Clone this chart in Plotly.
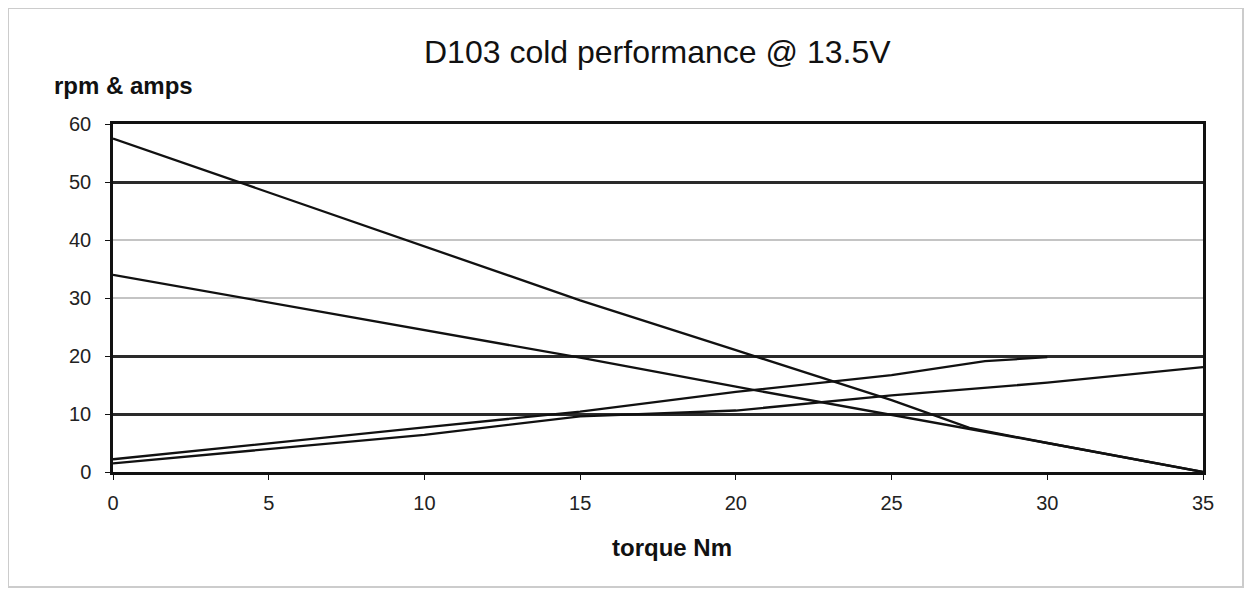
import plotly.graph_objects as go

# Data
torque_a = [0, 5, 10, 15, 20, 25, 27.5, 30, 35]
series_a = [57.5, 48.2, 38.9, 29.6, 21.0, 12.4, 7.6, 5.0, 0.0]

torque_b = [0, 5, 10, 15, 20, 25, 30, 35]
series_b = [34.0, 29.2, 24.4, 19.7, 14.7, 9.9, 5.0, 0.0]

torque_c = [0, 5, 10, 15, 20, 25, 28, 30]
series_c = [2.2, 5.0, 7.7, 10.4, 13.8, 16.7, 19.1, 19.8]

torque_d = [0, 5, 10, 15, 20, 25, 30, 35]
series_d = [1.5, 3.9, 6.4, 9.6, 10.6, 13.2, 15.4, 18.1]

x_ticks = [0, 5, 10, 15, 20, 25, 30, 35]
y_ticks = [0, 10, 20, 30, 40, 50, 60]
dark_grid = [10, 20, 50]

title_text = "D103 cold performance @ 13.5V"
y_label = "rpm & amps"
x_label = "torque Nm"

font_family = "Liberation Sans, Arial, sans-serif"

W, H = 1236, 580
L, R, T, B = 105, 41, 116, 116
PW, PH = W - L - R, H - T - B

fig = go.Figure()
for xs, ys in [(torque_a, series_a), (torque_b, series_b), (torque_c, series_c), (torque_d, series_d)]:
    fig.add_trace(go.Scatter(x=xs, y=ys, mode="lines",
                             line=dict(color="#111111", width=2.3),
                             showlegend=False, hoverinfo="skip"))

# invisible trace to activate the overlay axis carrying the darker gridlines
fig.add_trace(go.Scatter(x=[0], y=[0], yaxis="y2", mode="markers",
                         marker=dict(opacity=0), showlegend=False, hoverinfo="skip"))

fig.update_layout(
    width=W, height=H,
    paper_bgcolor="white", plot_bgcolor="white",
    margin=dict(l=L, r=R, t=T, b=B),
    font=dict(family=font_family, color="#111111", size=20),
    xaxis=dict(range=[0, 35], tickvals=x_ticks, showgrid=False, zeroline=False,
               showline=True, linecolor="#111111", linewidth=2.5, mirror=True,
               ticks="outside", ticklen=5, tickcolor="#111111", ticklabelstandoff=6,
               tickfont=dict(size=20, color="#222222")),
    yaxis=dict(range=[0, 60], tickvals=y_ticks, showgrid=True, gridcolor="#c4c4c4", gridwidth=2,
               zeroline=False, showline=True, linecolor="#111111", linewidth=2.5, mirror=True,
               ticks="outside", ticklen=5, tickcolor="#111111", ticklabelstandoff=10,
               tickfont=dict(size=20, color="#222222")),
    yaxis2=dict(range=[0, 60], tickvals=dark_grid, overlaying="y", showgrid=True,
                gridcolor="#2a2a2a", gridwidth=2.5, showticklabels=False, zeroline=False,
                showline=False, ticks=""),
    annotations=[
        dict(text=title_text, xref="paper", yref="paper",
             x=(649 - L) / PW, y=1 + (T - 44) / PH, xanchor="center", yanchor="middle",
             showarrow=False, font=dict(size=32, color="#111111")),
        dict(text="<b>" + y_label + "</b>", xref="paper", yref="paper",
             x=(115.5 - L) / PW, y=1 + (T - 77) / PH, xanchor="center", yanchor="middle",
             showarrow=False, font=dict(size=24, color="#111111")),
        dict(text="<b>" + x_label + "</b>", xref="paper", yref="paper",
             x=(664 - L) / PW, y=-(539 - (H - B)) / PH, xanchor="center", yanchor="middle",
             showarrow=False, font=dict(size=24, color="#111111")),
    ],
    shapes=[dict(type="rect", xref="paper", yref="paper",
                 x0=(0 - L) / PW, x1=(W - 1 - L) / PW,
                 y0=-(H - 1 - (H - B)) / PH, y1=1 + T / PH,
                 line=dict(color="#cccccc", width=2), fillcolor="rgba(0,0,0,0)", layer="below")],
)

fig.write_html("out.html")
